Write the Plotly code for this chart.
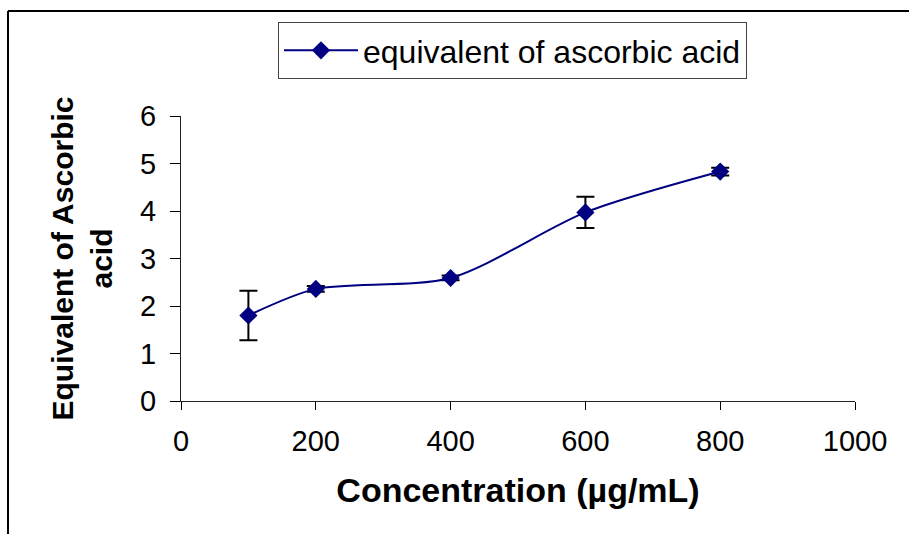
import plotly.graph_objects as go

concentration = [100, 200, 400, 600, 800]
equivalent = [1.80, 2.36, 2.59, 3.97, 4.83]
error = [0.52, 0.06, 0.05, 0.33, 0.08]
x_ticks = [0, 200, 400, 600, 800, 1000]
y_ticks = [0, 1, 2, 3, 4, 5, 6]

L, R, T, B = 181, 855, 116, 401
W, H = 909, 534

def px(x):
    return (x - L) / (R - L)

def py(y):
    return (B - y) / (B - T)

fig = go.Figure()
fig.add_trace(go.Scatter(
    x=concentration, y=equivalent,
    mode="lines+markers",
    name="equivalent of ascorbic acid",
    line=dict(color="#000080", width=2, shape="spline", smoothing=0.8),
    marker=dict(symbol="diamond", size=14, color="#000080"),
    error_y=dict(type="data", array=error, visible=True, color="black", thickness=2, width=9),
))

fig.update_layout(
    width=W, height=H,
    margin=dict(l=L, r=W - R, t=T, b=H - B),
    paper_bgcolor="white", plot_bgcolor="white",
    font=dict(family="Liberation Sans, Arial, sans-serif", color="black"),
    showlegend=True,
    legend=dict(
        x=px(278), y=py(22), xanchor="left", yanchor="top",
        bordercolor="#444", borderwidth=1, bgcolor="white",
        font=dict(size=32), itemwidth=74,
        tracegroupgap=0,
    ),
    xaxis=dict(
        range=[0, 1000], tickvals=x_ticks, showgrid=False, zeroline=False,
        showline=True, linecolor="#222", linewidth=1,
        ticks="outside", ticklen=8, tickcolor="black",
        tickfont=dict(size=29), ticklabelstandoff=6,
        title=dict(text="<b>Concentration (µg/mL)</b>", font=dict(size=34), standoff=22),
    ),
    yaxis=dict(
        range=[0, 6], tickvals=y_ticks, showgrid=False, zeroline=False,
        showline=True, linecolor="#222", linewidth=1,
        ticks="outside", ticklen=10, tickcolor="black",
        tickfont=dict(size=29), ticklabelstandoff=8,
        title=dict(text="<b>Equivalent of Ascorbic<br>acid</b>", font=dict(size=30), standoff=18),
    ),
    shapes=[
        dict(type="line", xref="paper", yref="paper",
             x0=px(8), y0=py(H + 5), x1=px(8), y1=py(11),
             line=dict(color="black", width=2)),
        dict(type="line", xref="paper", yref="paper",
             x0=px(8), y0=py(11), x1=px(W + 5), y1=py(11),
             line=dict(color="black", width=2)),
    ],
)

fig.write_html("out.html", config={"displayModeBar": False},
               post_script="document.body.style.margin='0px';")
